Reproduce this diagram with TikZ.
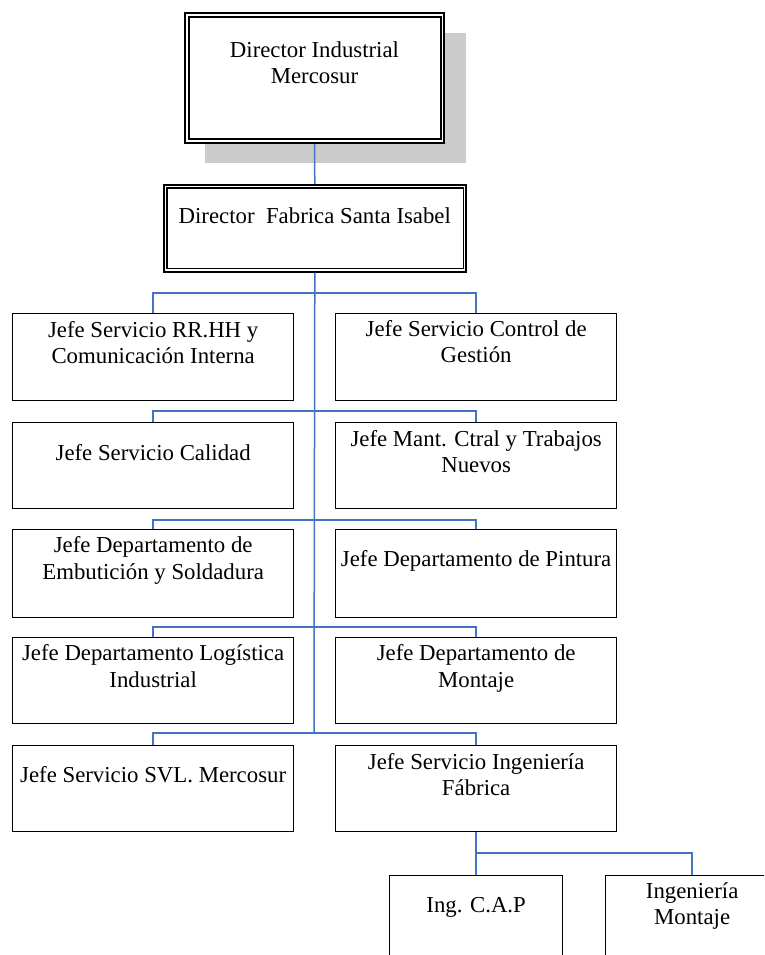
\documentclass[tikz,border=0pt]{standalone}
\usepackage{fontspec}
\setmainfont{Liberation Serif}
\definecolor{linkblue}{HTML}{4472C4}
\definecolor{shadowgray}{HTML}{CCCCCC}
\tikzset{
  unit/.style={draw=black, line width=1.3pt, fill=white, inner sep=0pt,
    anchor=north west, minimum width=281pt, minimum height=87pt},
  small/.style={unit, minimum width=173pt},
  % anchor=base sits on the baseline of the last line
  txt/.style={anchor=base, align=center, inner sep=0pt,
    font=\fontsize{22.8}{26.5}\selectfont},
  link/.style={draw=linkblue, line width=1.5pt},
}
\begin{document}
\begin{tikzpicture}[x=1pt, y=-1pt]
  \useasboundingbox (0,0) rectangle (764,955);
  \clip (0,0) rectangle (764,955);

  % top: director with shadow and double frame
  \fill[shadowgray] (205,33) rectangle (466,163);
  \node[draw=black, line width=2pt, fill=white, inner sep=0pt, anchor=north west,
        minimum width=259pt, minimum height=130pt] (dim) at (184,12) {};
  \draw[line width=1.3pt] ([shift={(5,5)}]dim.north west) rectangle ([shift={(-4,-5)}]dim.south east);
  \path (dim.north) ++(0,72) node[txt] (dimt) {Director Industrial\\Mercosur};

  % plant director, double frame
  \node[draw=black, line width=1.6pt, fill=white, inner sep=0pt, anchor=north west,
        minimum width=302pt, minimum height=87pt] (dfs) at (163,184) {};
  \draw[line width=1.2pt] ([shift={(4,4)}]dfs.north west) rectangle ([shift={(-3,-4)}]dfs.south east);
  \path (dfs.north) ++(0,39) node[txt] (dfst) {Director\ \ Fabrica Santa Isabel};

  % department heads
  \node[unit] (rh)  at (12,313)  {};
  \node[unit] (cg)  at (335,313) {};
  \node[unit, minimum height=86pt] (cal) at (12,422)  {};
  \node[unit, minimum height=86pt] (man) at (335,422) {};
  \node[unit, minimum height=88pt] (emb) at (12,529)  {};
  \node[unit, minimum height=88pt] (pin) at (335,529) {};
  \node[unit, minimum height=86pt] (log) at (12,637)  {};
  \node[unit, minimum height=86pt] (mon) at (335,637) {};
  \node[unit, minimum height=86pt] (svl) at (12,745)  {};
  \node[unit, minimum height=86pt] (ing) at (335,745) {};
  \node[small] (cap) at (389,875) {};
  \node[small] (imo) at (605,875) {};

  \path (rh.north)  ++(0,50.5) node[txt] (rht)  {Jefe Servicio RR.HH y\\Comunicación Interna};
  \path (cg.north)  ++(0,49.5) node[txt] (cgt)  {Jefe Servicio Control de\\Gestión};
  \path (cal.north) ++(0,38)   node[txt] (calt) {Jefe Servicio Calidad};
  \path (man.north) ++(0,50.5) node[txt] (mant) {Jefe Mant. Ctral y Trabajos\\Nuevos};
  \path (emb.north) ++(0,50)   node[txt] (embt) {Jefe Departamento de\\Embutición y Soldadura};
  \path (pin.north) ++(0,37)   node[txt] (pint) {Jefe Departamento de Pintura};
  \path (log.north) ++(0,50)   node[txt] (logt) {Jefe Departamento Logística\\Industrial};
  \path (mon.north) ++(0,50)   node[txt] (mont) {Jefe Departamento de\\Montaje};
  \path (svl.north) ++(0,37)   node[txt] (svlt) {Jefe Servicio SVL. Mercosur};
  \path (ing.north) ++(0,50.5) node[txt] (ingt) {Jefe Servicio Ingeniería\\Fábrica};
  \path (cap.north) ++(0,37)   node[txt] (capt) {Ing. C.A.P};
  \path (imo.north) ++(0,49.5) node[txt] (imot) {Ingeniería\\Montaje};

  % connectors
  \coordinate (b1) at (314,293);
  \coordinate (b2) at (314,411);
  \coordinate (b3) at (314,520);
  \coordinate (b4) at (314,627);
  \coordinate (b5) at (314,733);
  \coordinate (b6) at (475.5,853);

  \draw[link] (dim.south) -- (dfs.north);
  \draw[link] (dfs.south) -- (b5);
  \draw[link] (rh.north)  |- (b1) -| (cg.north);
  \draw[link] (cal.north) |- (b2) -| (man.north);
  \draw[link] (emb.north) |- (b3) -| (pin.north);
  \draw[link] (log.north) |- (b4) -| (mon.north);
  \draw[link] (svl.north) |- (b5) -| (ing.north);
  \draw[link] (ing.south) -- (cap.north);
  \draw[link] (b6) -| (imo.north);
\end{tikzpicture}
\end{document}
